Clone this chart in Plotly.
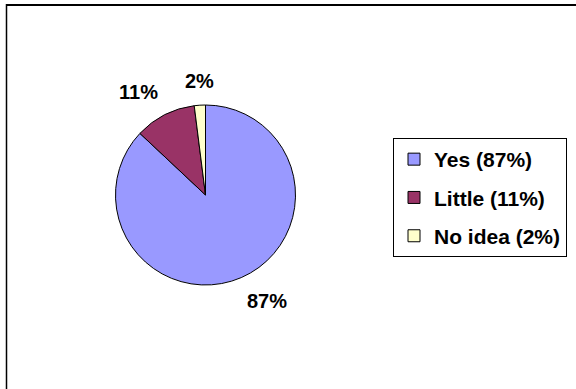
import math
import plotly.graph_objects as go

labels = ["Yes", "Little", "No idea"]
values = [87, 11, 2]
colors = ["#9999FF", "#993366", "#FFFFCC"]
legend_text = ["Yes (87%)", "Little (11%)", "No idea (2%)"]

W, H = 576, 389
FONT = "Liberation Sans, Arial, sans-serif"

# pie geometry (pixels)
CX, CY, R = 205.5, 195.0, 90.0
GAP = 12.0

fig = go.Figure()
fig.add_trace(go.Pie(
    labels=labels, values=values, sort=False, direction="clockwise", rotation=0,
    marker=dict(colors=colors, line=dict(color="black", width=1)),
    textinfo="none",
    showlegend=False, hoverinfo="label+percent",
    domain=dict(x=[(CX - R) / W, (CX + R) / W], y=[(H - CY - R) / H, (H - CY + R) / H]),
))

# outside percentage labels, placed from the data's slice angles
total = sum(values)
annotations = []
cum = 0.0
for v in values:
    mid = (cum + v / 2) / total * 2 * math.pi
    cum += v
    dx, dy = math.sin(mid), -math.cos(mid)  # screen direction (dy down)
    px = CX + (R + GAP) * dx
    py = CY + (R + GAP) * dy
    xa = "left" if dx > 0.2 else ("right" if dx < -0.2 else "center")
    ya = "top" if dy > 0.2 else ("bottom" if dy < -0.2 else "middle")
    annotations.append(dict(
        x=px / W, y=1 - py / H, xref="paper", yref="paper",
        text=f"{round(v / total * 100)}%", showarrow=False,
        xanchor=xa, yanchor=ya, borderpad=0,
        font=dict(family=FONT, size=20, color="black", weight="bold"),
    ))

for i, (lab, col) in enumerate(zip(legend_text, colors)):
    fig.add_trace(go.Scatter(
        x=[None], y=[None], mode="markers", name=lab, legendgroup=f"g{i}",
        marker=dict(symbol="square", size=12, color=col, line=dict(color="black", width=1)),
        showlegend=True,
    ))

fig.update_layout(
    width=W, height=H, margin=dict(l=0, r=0, t=0, b=0),
    paper_bgcolor="white", plot_bgcolor="white",
    xaxis=dict(visible=False), yaxis=dict(visible=False),
    legend=dict(
        x=393 / W, xanchor="left", y=1 - 138 / H, yanchor="top",
        bordercolor="black", borderwidth=1, bgcolor="white",
        font=dict(family=FONT, size=21, color="black", weight="bold"),
        tracegroupgap=8,
    ),
    annotations=annotations,
    shapes=[
        dict(type="line", xref="paper", yref="paper", x0=6 / W, x1=1, y0=1 - 5 / H, y1=1 - 5 / H,
             line=dict(color="black", width=2)),
        dict(type="line", xref="paper", yref="paper", x0=6.5 / W, x1=6.5 / W, y0=0, y1=1 - 4 / H,
             line=dict(color="black", width=1.5)),
    ],
)

fig.write_html("out.html", config={"displayModeBar": False},
               post_script="document.body.style.margin='0';")
